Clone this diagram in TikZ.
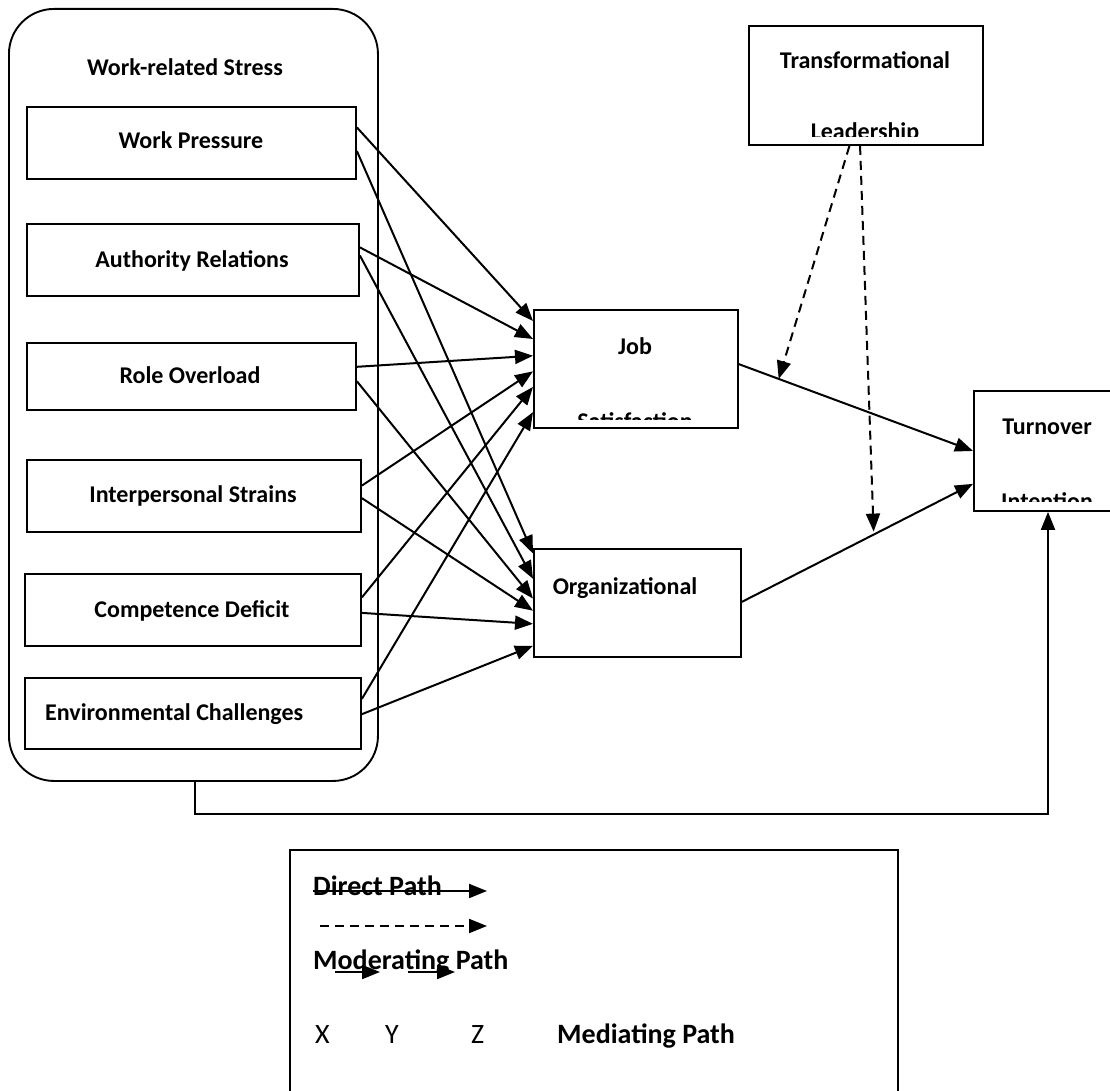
\documentclass[tikz,border=0pt]{standalone}
\usepackage{fontspec}
\setmainfont{Carlito}
\usetikzlibrary{arrows.meta,calc}
\begin{document}
\begin{tikzpicture}[x=1pt,y=-1pt,
  box/.style={draw,line width=1.9pt,inner sep=0pt,anchor=north west},
  lbl/.style={font=\fontsize{24}{28}\selectfont\bfseries,inner sep=0pt,anchor=base},
  lgd/.style={font=\fontsize{28}{32}\selectfont\bfseries,inner sep=0pt,anchor=base west},
  lgr/.style={font=\fontsize{28}{32}\selectfont,inner sep=0pt,anchor=base west},
  arr/.style={line width=2pt,-{Triangle[length=18pt,width=14pt]}},
  darr/.style={arr,dash pattern=on 9pt off 6pt},
]
\useasboundingbox (0,0) rectangle (1110,1091);
% outer group
\node[box,rounded corners=45pt,minimum width=369pt,minimum height=772pt] (wrs) at (8,8) {};
\node[lbl] (wrst) at (185,76) {Work-related Stress};
% left boxes
\node[box,minimum width=329pt,minimum height=72pt] (wp) at (26,106) {};
\node[box,minimum width=332pt,minimum height=72pt] (ar) at (26,223) {};
\node[box,minimum width=329pt,minimum height=67pt] (ro) at (26,342) {};
\node[box,minimum width=334pt,minimum height=72pt] (is) at (26,459) {};
\node[box,minimum width=336pt,minimum height=72pt] (cd) at (24,573) {};
\node[box,minimum width=336pt,minimum height=71pt] (ec) at (24,677) {};
\node[lbl] (wpt) at (191,149) {Work Pressure};
\node[lbl] (art) at (192,267) {Authority Relations};
\node[lbl] (rot) at (190,383) {Role Overload};
\node[lbl] (ist) at (193,502) {Interpersonal Strains};
\node[lbl] (cdt) at (192,617) {Competence Deficit};
\node[lbl,anchor=base west] (ect) at (45,720) {Environmental Challenges};
% mediators and outcome
\node[box,minimum width=204pt,minimum height=118pt] (job) at (533,309) {};
\node[box,minimum width=207pt,minimum height=108pt] (org) at (533,548) {};
\node[box,minimum width=160pt,minimum height=120pt] (turn) at (973,390) {};
\node[box,minimum width=234pt,minimum height=119pt] (tl) at (748,25) {};
\node[lbl] (jobt) at (635,354) {Job};
\node[lbl] (orgt) at (625,594) {Organizational};
\node[lbl] (turnt) at (1047,434) {Turnover};
\node[lbl] (tlt) at (865,69) {Transformational};
\begin{scope}
  \clip ([yshift=9pt]job.south west) rectangle (job.north east);
  \node[lbl] (jobt2) at (635,429) {Satisfaction};
\end{scope}
\begin{scope}
  \clip ([yshift=10pt]turn.south west) rectangle (turn.north east);
  \node[lbl] (turnt2) at (1047,509) {Intention};
\end{scope}
\begin{scope}
  \clip ([yshift=9pt]tl.south west) rectangle (tl.north east);
  \node[lbl] (tlt2) at (865,140) {Leadership};
\end{scope}
% arrows to Job Satisfaction
\draw[arr] ($(wp.north east)!0.29!(wp.south east)$) -- ($(job.north west)!0.10!(job.south west)$);
\draw[arr] ($(ar.north east)!0.33!(ar.south east)$) -- ($(job.north west)!0.25!(job.south west)$);
\draw[arr] ($(ro.north east)!0.36!(ro.south east)$) -- ($(job.north west)!0.39!(job.south west)$);
\draw[arr] ($(is.north east)!0.36!(is.south east)$) -- ($(job.north west)!0.52!(job.south west)$);
\draw[arr] ($(cd.north east)!0.33!(cd.south east)$) -- ($(job.north west)!0.65!(job.south west)$);
\draw[arr] ($(ec.north east)!0.30!(ec.south east)$) -- ($(job.north west)!0.86!(job.south west)$);
% arrows to Organizational
\draw[arr] ($(wp.north east)!0.61!(wp.south east)$) -- ($(org.north west)!0.05!(org.south west)$);
\draw[arr] ($(ar.north east)!0.44!(ar.south east)$) -- ($(org.north west)!0.28!(org.south west)$);
\draw[arr] ($(ro.north east)!0.57!(ro.south east)$) -- ($(org.north west)!0.46!(org.south west)$);
\draw[arr] ($(is.north east)!0.53!(is.south east)$) -- ($(org.north west)!0.57!(org.south west)$);
\draw[arr] ($(cd.north east)!0.54!(cd.south east)$) -- ($(org.north west)!0.69!(org.south west)$);
\draw[arr] ($(ec.north east)!0.51!(ec.south east)$) -- ($(org.north west)!0.89!(org.south west)$);
% to Turnover
\coordinate (js) at ($(job.north east)!0.46!(job.south east)$);
\coordinate (te1) at ($(turn.north west)!0.5!(turn.south west)$);
\coordinate (os) at ($(org.north east)!0.49!(org.south east)$);
\coordinate (te2) at ($(turn.north west)!0.77!(turn.south west)$);
\draw[arr] (js) -- (te1);
\draw[arr] (os) -- (te2);
\coordinate (m1) at ($(js)!0.17!(te1)$);
\coordinate (m2) at ($(os)!0.57!(te2)$);
\draw[darr] ($(tl.south west)!0.43!(tl.south east)$) -- (m1);
\draw[darr] ($(tl.south west)!0.475!(tl.south east)$) -- ([yshift=3pt]m2);
% direct path from Work-related Stress
\coordinate (wb) at ([xshift=2pt]wrs.south);
\draw[arr] (wb) -- ++(0,32) -| ([xshift=75pt]turn.south west);
% legend
\coordinate (lg1) at (290,1095);
\coordinate (lg2) at (290,850);
\coordinate (lg3) at (898,850);
\coordinate (lg4) at (898,1095);
\draw[line width=1.9pt] (lg1) -- (lg2) -- (lg3) -- (lg4);
\node[lgd] (dp) at (313,895) {Direct Path};
\coordinate (dpe) at (487,891);
\draw[arr] (dp.west |- dpe) -- (dpe);
\coordinate (ds1) at (320,926);
\coordinate (ds2) at (487,926);
\draw[darr] (ds1) -- (ds2);
\node[lgd] (mp) at (313,969) {Moderating Path};
\coordinate (sa1) at (335,972);
\coordinate (sa2) at (380,972);
\coordinate (sb1) at (408,972);
\coordinate (sb2) at (455,972);
\draw[arr] (sa1) -- (sa2);
\draw[arr] (sb1) -- (sb2);
\node[lgr] (xx) at (315,1043) {X};
\node[lgr] (yy) at (385,1043) {Y};
\node[lgr] (zz) at (471,1043) {Z};
\node[lgd] (medp) at (557,1043) {Mediating Path};
\end{tikzpicture}
\end{document}
